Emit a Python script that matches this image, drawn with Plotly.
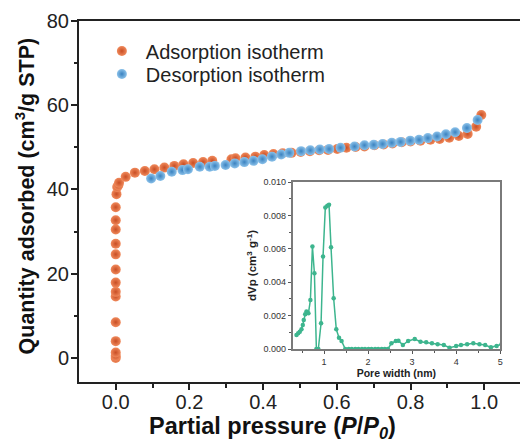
import plotly.graph_objects as go

# Adsorption isotherm (P/P0, quantity)
ads_p = [0.000, 0.000, 0.000, 0.000, 0.000, 0.000, 0.000, 0.000, 0.000, 0.000, 0.000, 0.000,
         0.000, 0.000, 0.002, 0.004, 0.007, 0.009, 0.027, 0.052, 0.079, 0.105, 0.132, 0.159,
         0.184, 0.210, 0.237, 0.262, 0.314, 0.325, 0.352, 0.379, 0.403, 0.428, 0.453, 0.477,
         0.502, 0.527, 0.552, 0.576, 0.601, 0.626, 0.651, 0.675, 0.702, 0.727, 0.751, 0.776,
         0.800, 0.827, 0.854, 0.879, 0.905, 0.931, 0.955, 0.978, 0.992]
ads_v = [0.0, 0.5, 1.3, 4.0, 8.5, 14.6, 15.7, 17.9, 21.0, 24.6, 27.1, 30.5,
         32.7, 35.8, 38.9, 40.6, 41.0, 41.6, 43.0, 44.0, 44.4, 44.8, 45.2, 45.6,
         46.0, 46.3, 46.5, 46.8, 47.2, 47.4, 47.6, 47.8, 48.2, 48.4, 48.6, 48.7,
         48.9, 49.1, 49.3, 49.4, 49.6, 49.9, 50.1, 50.2, 50.5, 50.7, 50.9, 51.2,
         51.4, 51.6, 51.8, 52.0, 52.3, 52.7, 53.2, 54.9, 57.7]

# Desorption isotherm
des_p = [0.096, 0.121, 0.152, 0.181, 0.196, 0.228, 0.255, 0.269, 0.298, 0.323, 0.349,
         0.374, 0.398, 0.424, 0.449, 0.471, 0.503, 0.528, 0.554, 0.579, 0.610, 0.648,
         0.675, 0.700, 0.724, 0.749, 0.773, 0.799, 0.823, 0.847, 0.872, 0.896, 0.921,
         0.953, 0.982]
des_v = [42.6, 43.2, 44.2, 44.6, 44.8, 45.4, 45.4, 45.6, 45.8, 46.2, 46.5,
         46.8, 47.2, 47.8, 48.3, 48.7, 49.1, 49.3, 49.5, 49.6, 49.9, 50.2,
         50.5, 50.6, 50.8, 51.1, 51.3, 51.6, 51.8, 52.2, 52.6, 53.1, 53.6,
         54.6, 56.5]

# Pore size distribution (inset)
pore_w = [0.374, 0.412, 0.449, 0.487, 0.517, 0.539, 0.571, 0.600, 0.645, 0.690, 0.736,
          0.781, 0.826, 0.870, 0.932, 0.977, 1.029, 1.075, 1.113, 1.158, 1.218, 1.278,
          1.339, 1.398, 1.481, 1.56, 1.63, 1.71, 1.78, 1.86, 1.93, 2.01, 2.08, 2.16,
          2.23, 2.31, 2.38, 2.45, 2.53, 2.63, 2.69, 2.79, 2.91, 3.06, 3.19, 3.32,
          3.45, 3.58, 3.72, 3.85, 4.00, 4.11, 4.25, 4.39, 4.53, 4.66, 4.79, 4.92, 5.03]
pore_dv = [0.00084, 0.00094, 0.00104, 0.00118, 0.00144, 0.00174, 0.00208, 0.00224, 0.00214,
           0.00294, 0.00614, 0.00454, 0.0, 0.0, 0.00154, 0.00554, 0.00848, 0.00858, 0.00864,
           0.0061, 0.00304, 0.00118, 0.00068, 0.00048, 0.0, 0.0, 0.0, 0.0, 0.0, 0.0, 0.0,
           0.0, 0.0, 0.0, 0.0, 0.0, 0.0, 0.0, 0.00034, 0.00048, 0.0005, 0.00024, 0.00048,
           0.0006, 0.00044, 0.0004, 0.00034, 0.00028, 0.00024, 0.00008, 0.00018, 0.00024,
           0.00028, 0.00034, 0.00028, 0.00024, 0.0001, 0.00018, 0.00028]

X_TITLE = "<b>Partial pressure (<i>P</i>/<i>P<sub>0</sub></i>)</b>"
Y_TITLE = "<b>Quantity adsorbed (cm<sup>3</sup>/g STP)</b>"

FONT = "Liberation Sans, Arial, sans-serif"

fig = go.Figure()
fig.add_trace(go.Scatter(
    x=ads_p, y=ads_v, mode="markers", name="Adsorption isotherm", legend="legend",
    marker=dict(size=10, color="#F08A5C", line=dict(width=0),
                gradient=dict(type="radial", color="#C94E24")),
    xaxis="x", yaxis="y"))
fig.add_trace(go.Scatter(
    x=des_p, y=des_v, mode="markers", name="Desorption isotherm", legend="legend2",
    marker=dict(size=10, color="#8CC2EA", line=dict(width=0),
                gradient=dict(type="radial", color="#3A82C0")),
    xaxis="x", yaxis="y"))
fig.add_trace(go.Scatter(
    x=pore_w, y=pore_dv, mode="lines+markers", showlegend=False,
    line=dict(color="#3DB58E", width=1.5),
    marker=dict(size=4.5, color="#3DB58E"),
    xaxis="x2", yaxis="y2"))

leg_common = dict(xanchor="left", yanchor="middle", bgcolor="rgba(0,0,0,0)",
                  font=dict(size=20, color="#222"), itemwidth=38, borderwidth=0)

fig.update_layout(
    width=523, height=446,
    margin=dict(l=79, r=0, t=21, b=64),
    paper_bgcolor="white", plot_bgcolor="white",
    font=dict(family=FONT, color="#222"),
    showlegend=True,
    legend=dict(x=0.0428, y=0.9169, **leg_common),
    legend2=dict(x=0.0428, y=0.8532, **leg_common),
    xaxis=dict(
        range=[-0.0997, 1.097], domain=[0, 1],
        tickvals=[0.0, 0.2, 0.4, 0.6, 0.8, 1.0],
        ticktext=["0.0", "0.2", "0.4", "0.6", "0.8", "1.0"],
        ticks="outside", ticklen=6, tickwidth=2, tickcolor="#222",
        minor=dict(dtick=0.1, ticks="outside", ticklen=3.5, tickwidth=1.5, tickcolor="#222"),
        showline=True, linecolor="#222", linewidth=2, mirror=True,
        showgrid=False, zeroline=False,
        tickfont=dict(size=20, color="#222"),
        ticklabelstandoff=-5,
    ),
    yaxis=dict(
        range=[-5.7, 80], domain=[0, 1],
        tickvals=[0, 20, 40, 60, 80],
        ticks="outside", ticklen=6, tickwidth=2, tickcolor="#222",
        minor=dict(dtick=10, ticks="outside", ticklen=3.5, tickwidth=1.5, tickcolor="#222"),
        showline=True, linecolor="#222", linewidth=2, mirror=False,
        showgrid=False, zeroline=False,
        tickfont=dict(size=20, color="#222"),
        ticklabelstandoff=-2,
    ),
    xaxis2=dict(
        anchor="y2", domain=[0.4842, 0.955], range=[0.284, 5.0],
        tickvals=[1, 2, 3, 4, 5],
        ticks="outside", ticklen=3, tickwidth=1, tickcolor="#555",
        minor=dict(dtick=0.5, ticks="outside", ticklen=2, tickwidth=1, tickcolor="#555"),
        showline=True, linecolor="#7a7a7a", linewidth=1.5, mirror=True,
        showgrid=False, zeroline=False,
        tickfont=dict(size=9, color="#333"),
        title=dict(text="<b>Pore width (nm)</b>", font=dict(size=10.5, color="#222"), standoff=2),
    ),
    yaxis2=dict(
        anchor="x2", domain=[0.0914, 0.554], range=[0, 0.010],
        tickvals=[0, 0.002, 0.004, 0.006, 0.008, 0.010],
        ticktext=["0.000", "0.002", "0.004", "0.006", "0.008", "0.010"],
        ticks="outside", ticklen=3, tickwidth=1, tickcolor="#555",
        minor=dict(dtick=0.001, ticks="outside", ticklen=2, tickwidth=1, tickcolor="#555"),
        showline=True, linecolor="#7a7a7a", linewidth=1.5, mirror=True,
        showgrid=False, zeroline=False,
        tickfont=dict(size=9, color="#333"),
        title=dict(text="<b>dVp (cm<sup>3</sup> g<sup>-1</sup>)</b>", font=dict(size=11.5, color="#222"), standoff=4),
    ),
    annotations=[
        dict(text=X_TITLE, xref="paper", yref="paper", x=0.439, y=-0.172,
             xanchor="center", yanchor="bottom", showarrow=False,
             font=dict(size=23.5, color="#111")),
        dict(text=Y_TITLE, xref="paper", yref="paper", x=-0.1216, y=0.515,
             xanchor="center", yanchor="middle", showarrow=False, textangle=-90,
             font=dict(size=21.5, color="#111")),
    ],
)

fig.write_html("out.html")
